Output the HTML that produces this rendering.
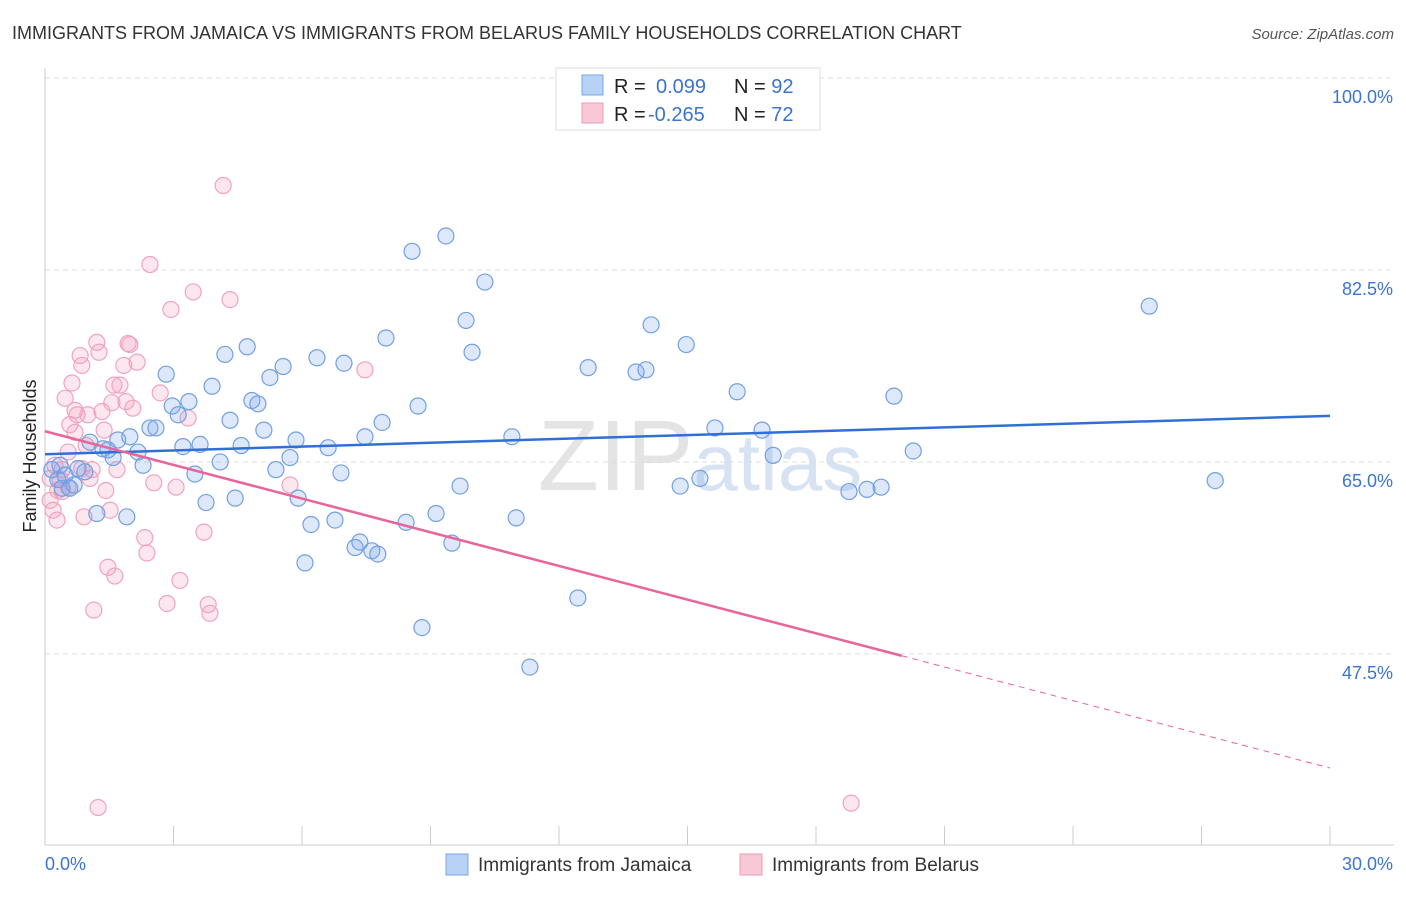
<!DOCTYPE html>
<html><head><meta charset="utf-8"><style>
body{margin:0;background:#fff;font-family:"Liberation Sans",sans-serif;}
svg text{font-family:"Liberation Sans",sans-serif;}
</style></head><body>
<svg id="chart" width="1406" height="892">
<text x="12" y="39" font-size="18" fill="#333">IMMIGRANTS FROM JAMAICA VS IMMIGRANTS FROM BELARUS FAMILY HOUSEHOLDS CORRELATION CHART</text>
<text x="1394" y="39" font-size="15" fill="#555" font-style="italic" text-anchor="end">Source: ZipAtlas.com</text>
<text x="36" y="456" font-size="18" fill="#222" text-anchor="middle" transform="rotate(-90 36 456)">Family Households</text>
<text x="700" y="490" font-size="100" fill="#e4e4e4" text-anchor="middle" font-family="Liberation Serif">ZIP<tspan fill="#d7e3f2" font-family="Liberation Sans" font-size="80">atlas</tspan></text>
<g id="grid"></g><g id="pts"></g><g id="trend"></g>
<g>
<rect x="556" y="68" width="264" height="62" fill="#fff" stroke="#ddd"/>
<rect x="582" y="75" width="21" height="20" fill="#b8d2f5" stroke="#7aa6e6"/>
<rect x="582" y="103" width="21" height="20" fill="#f9c8d7" stroke="#ee9cb7"/>
<text x="614" y="93" font-size="20" fill="#222">R = <tspan x="656" fill="#3b74d0">0.099</tspan><tspan x="734" fill="#222">N = </tspan><tspan fill="#3b74d0">92</tspan></text>
<text x="614" y="121" font-size="20" fill="#222">R = <tspan x="648" fill="#3b74d0">-0.265</tspan><tspan x="734" fill="#222">N = </tspan><tspan fill="#3b74d0">72</tspan></text>
</g>
<g>
<rect x="446" y="854" width="22" height="21" fill="#b8d2f5" stroke="#7aa6e6"/>
<text x="478" y="871" font-size="19" fill="#333">Immigrants from Jamaica</text>
<rect x="740" y="854" width="22" height="21" fill="#f9c8d7" stroke="#ee9cb7"/>
<text x="772" y="871" font-size="19" fill="#333">Immigrants from Belarus</text>
</g>
</svg>
<script>
const xTicksLabels=["0.0%","30.0%"];
const yTicks=[47.5,65.0,82.5,100.0];
const jamX=[0.16,0.30,0.40,0.58,0.77,0.93,1.05,1.21,1.35,1.47,1.59,1.70,1.91,1.98,2.17,2.29,2.45,2.59,2.83,2.97,3.11,3.22,3.36,3.50,3.62,3.76,3.90,4.09,4.20,4.32,4.44,4.58,4.72,4.83,4.97,5.11,5.25,5.39,5.56,5.72,5.86,5.91,6.07,6.21,6.35,6.61,6.77,6.91,6.98,7.24,7.35,7.47,7.63,7.77,7.87,7.96,8.43,8.57,8.71,8.80,9.13,9.36,9.50,9.69,9.83,9.97,10.27,10.90,11.00,11.32,12.44,12.68,13.80,14.03,14.15,14.83,14.97,15.29,15.64,16.16,16.74,17.00,18.77,19.19,19.52,19.82,20.27,25.78,27.32,0.35,0.47,0.68];
const jamY=[64.3,63.4,62.6,62.6,64.4,64.1,66.8,60.3,66.2,66.1,65.4,67.0,60.0,67.3,65.9,64.7,68.1,68.1,73.0,70.1,69.3,66.4,70.5,63.9,66.6,61.3,71.9,65.0,74.8,68.8,61.7,66.5,75.5,70.6,70.3,67.9,72.7,64.3,73.7,65.4,67.0,61.7,55.8,59.3,74.5,66.3,59.7,64.0,74.0,57.2,57.7,67.3,56.9,56.6,68.6,76.3,59.5,84.2,70.1,49.9,60.3,85.6,57.6,62.8,77.9,75.0,81.4,67.3,59.9,46.3,52.6,73.6,73.2,73.4,77.5,62.8,75.7,63.5,68.1,71.4,67.9,65.6,62.3,62.5,62.7,71.0,66.0,79.2,63.3,64.7,63.8,62.9];
const belX=[0.12,0.19,0.23,0.30,0.40,0.47,0.54,0.58,0.63,0.70,0.75,0.82,0.86,0.91,0.96,1.00,1.05,1.10,1.14,1.21,1.26,1.33,1.38,1.42,1.47,1.52,1.56,1.61,1.63,1.68,1.75,1.84,1.89,1.94,1.98,2.05,2.15,2.33,2.38,2.45,2.54,2.69,2.85,2.94,3.06,3.15,3.34,3.46,3.71,3.81,3.85,4.16,4.32,5.72,7.47,1.24,18.82,0.35,0.54,0.70,0.86,0.12,0.28,0.40];
const belY=[61.5,60.6,64.7,62.4,64.3,70.8,62.7,68.4,72.2,69.7,69.3,74.7,73.8,60.0,66.5,69.3,63.5,64.3,51.5,75.9,75.0,69.6,67.9,62.4,55.4,60.6,70.4,72.0,54.6,64.3,72.0,73.8,70.5,75.8,75.7,69.9,74.1,58.1,56.7,83.0,63.1,71.3,52.1,78.9,62.7,54.2,69.0,80.5,58.6,52.0,51.2,90.2,79.8,62.9,73.4,33.5,33.9,63.4,65.9,67.7,64.4,63.5,59.7,62.3];
const jamTrend=[65.7,69.2];
const belTrend=[67.8,37.1];
const belSolidEnd=20.0;
const NS="http://www.w3.org/2000/svg";
const X0=45,X1=1330,Y100=78,PXPER=10.97;
const sx=v=>X0+(v/30)*(X1-X0);
const sy=v=>Y100+(100-v)*PXPER;
function mk(tag,attrs,parent){const e=document.createElementNS(NS,tag);for(const k in attrs)e.setAttribute(k,attrs[k]);parent.appendChild(e);return e;}
const grid=document.getElementById('grid');
yTicks.forEach(t=>{
 const l=mk('line',{x1:X0,x2:1394,y1:sy(t),y2:sy(t),stroke:'#ddd','stroke-dasharray':'5,4'},grid);
 
 
 const tx=mk('text',{x:1393,y:sy(t)+25,'font-size':18,fill:'#3b74d0','text-anchor':'end'},grid);
 tx.textContent=t.toFixed(1)+'%';
 
 
});
const ax=mk('line',{x1:X0,x2:X0,y1:68,y2:845,stroke:'#ccc'},grid);


const bx=mk('line',{x1:X0,x2:1394,y1:845,y2:845,stroke:'#ccc'},grid);


for(let k=0;k<=10;k++){
 const t=mk('line',{x1:sx(k*3),x2:sx(k*3),y1:826,y2:845,stroke:'#ccc'},grid);
 
 
}
const xl0=mk('text',{x:45,y:870,'font-size':18,fill:'#3b74d0'},grid);xl0.textContent=xTicksLabels[0];


const xl1=mk('text',{x:1393,y:870,'font-size':18,fill:'#3b74d0','text-anchor':'end'},grid);xl1.textContent=xTicksLabels[1];


const pts=document.getElementById('pts');
belX.forEach((x,i)=>{
 const c=mk('circle',{cx:sx(x),cy:sy(belY[i]),r:8,fill:'rgba(245,160,190,0.25)',stroke:'#f0a3bd','stroke-width':1.2},pts);
 
 
});
jamX.forEach((x,i)=>{
 const c=mk('circle',{cx:sx(x),cy:sy(jamY[i]),r:8,fill:'rgba(120,165,235,0.25)',stroke:'#72a0e2','stroke-width':1.2},pts);
 
 
});
const tr=document.getElementById('trend');
const jl=mk('line',{x1:sx(0),y1:sy(jamTrend[0]),x2:sx(30),y2:sy(jamTrend[1]),stroke:'#2f6fd6','stroke-width':2.5},tr);


const bAt=x=>belTrend[0]+(belTrend[1]-belTrend[0])*x/30;
const bl=mk('line',{x1:sx(0),y1:sy(belTrend[0]),x2:sx(belSolidEnd),y2:sy(bAt(belSolidEnd)),stroke:'#e8649a','stroke-width':2.5},tr);


const bd=mk('line',{x1:sx(belSolidEnd),y1:sy(bAt(belSolidEnd)),x2:sx(30),y2:sy(belTrend[1]),stroke:'#e8649a','stroke-width':1,'stroke-dasharray':'6,5'},tr);


</script>
</body></html>
